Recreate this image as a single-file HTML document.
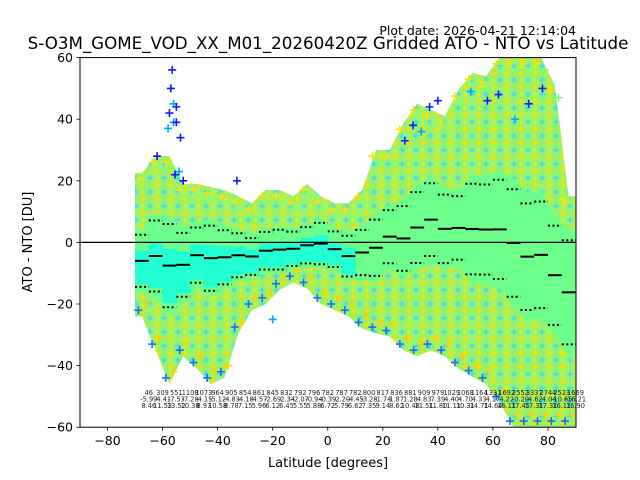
<!DOCTYPE html>
<html><head><meta charset="utf-8"><style>
body{margin:0;background:#fff;}
svg{display:block;font-family:"DejaVu Sans","Liberation Sans",sans-serif;}
</style></head><body>
<svg id="chart" width="640" height="480" viewBox="0 0 640 480" xmlns="http://www.w3.org/2000/svg">
<defs>
<clipPath id="plotclip"><rect x="80" y="57.6" width="496" height="369.6"/></clipPath>
<pattern id="pluspat" width="14" height="14" patternUnits="userSpaceOnUse">
<rect width="14" height="14" fill="#98f26a"/>
<path d="M3 0v6M0 3h6" stroke="#ffdf00" stroke-width="1.5"/>
<path d="M10 7v6M7 10h6" stroke="#3adcff" stroke-width="1.5"/>
<path d="M3 8v5M0.5 10.5h5" stroke="#c8f22a" stroke-width="1.5"/>
</pattern>
</defs>
<text x="576" y="35" font-size="12.5" text-anchor="end">Plot date: 2026-04-21 12:14:04</text>
<text x="328" y="49" font-size="16.7" text-anchor="middle">S-O3M_GOME_VOD_XX_M01_20260420Z Gridded ATO - NTO vs Latitude</text>
<g id="cloud" clip-path="url(#plotclip)"></g>
<g id="stats" clip-path="url(#plotclip)"></g>
<g id="labels"></g>
<rect x="80" y="57.6" width="496" height="369.6" fill="none" stroke="#000" stroke-width="1"/>
<g id="axes"></g>
<text x="328" y="467" font-size="13" text-anchor="middle">Latitude [degrees]</text>
<text transform="translate(32,242) rotate(-90)" font-size="13" text-anchor="middle">ATO - NTO [DU]</text>
</svg>
<script>
const binStart=[-70,-65,-60,-55,-50,-45,-40,-35,-30,-25,-20,-15,-10,-5,0,5,10,15,20,25,30,35,40,45,50,55,60,65,70,75,80,85];
const counts=[46,309,551,1108,1073,964,905,854,861,845,832,792,796,782,787,782,800,817,836,881,909,979,1029,1068,1164,1331,1692,2552,3337,2744,2523,1669];
const means=[-5.99,-4.41,-7.53,-7.28,-4.15,-5.12,-4.83,-4.18,-4.57,-2.69,-2.34,-2.07,-0.94,-0.39,-2.20,-4.45,-3.28,-1.74,1.87,1.28,4.83,7.39,4.40,4.70,4.33,4.17,4.22,-0.20,-4.62,-4.04,-10.65,-16.21];
const stds=[8.46,11.53,13.52,10.38,8.97,10.58,8.78,7.15,5.96,6.12,6.45,5.55,5.88,6.72,5.79,6.62,7.35,9.14,8.62,10.48,11.51,11.80,11.11,10.31,14.71,14.64,16.11,17.45,17.31,17.31,16.11,16.90];
const cloudMax=[22.5,28,28,19,19,18,17,15,12.7,17,17,15,19,15,12.7,12.7,17,30,30,38.7,45,43,41,49.5,55,54,60,60,60,60,51,15];
const cloudMin=[-24,-35,-46,-37,-41,-46,-44,-29.5,-22,-20,-15.4,-13,-15,-20,-22,-24,-28,-29.5,-30.6,-35,-37,-35,-37,-41,-43.6,-46,-52,-60,-60,-60,-60,-60];
const outlierLat=[-56.5,-57,-56,-55,-57.5,-56,-55,-53.5,-54,-55.5,-52.5,-58,-62,-33,-20,28,31,34,37,40,52,58,62,68,73,78];
const outlierVal=[56,50,45,44,42,39,39,34,23,22,20,37,28,20,-25,33,38,36,44,46,49,46,48,40,45,50];
const xTicks=[-80,-60,-40,-20,0,20,40,60,80];
const yTicks=[60,40,20,0,-20,-40,-60];

const NS="http://www.w3.org/2000/svg";
function xs(lat){return 80+(lat+90)*495.5/180;}
function ys(v){return 242.4-v*3.08;}
function mk(tag,attrs,parent){const e=document.createElementNS(NS,tag);for(const k in attrs)e.setAttribute(k,attrs[k]);parent.appendChild(e);return e;}
const W=5;
const cloud=document.getElementById('cloud');
function band(upper,lower){
  const n=binStart.length;let pts=[];
  pts.push(xs(binStart[0])+','+ys(upper[0]));
  for(let i=0;i<n;i++){pts.push(xs(binStart[i]+W/2)+','+ys(upper[i]));}
  pts.push(xs(binStart[n-1]+W)+','+ys(upper[n-1]));
  pts.push(xs(binStart[n-1]+W)+','+ys(lower[n-1]));
  for(let i=n-1;i>=0;i--){pts.push(xs(binStart[i]+W/2)+','+ys(lower[i]));}
  pts.push(xs(binStart[0])+','+ys(lower[0]));
  return pts.join(' ');
}
let outer=mk('polygon',{points:band(cloudMax,cloudMin),fill:'url(#pluspat)'},cloud);


const midU=means.map((m,i)=>m+stds[i]*1.2), midL=means.map((m,i)=>m-stds[i]*1.2);
let mid=mk('polygon',{points:band(midU,midL),fill:'#6cff8c'},cloud);


for(let i=0;i<binStart.length;i++){ if(binStart[i]<=5){ const y1=ys(means[i]+stds[i]*0.4), y2=ys(means[i]-stds[i]*0.9);
  const r=mk('rect',{x:xs(binStart[i]),y:y1,width:xs(binStart[i]+W)-xs(binStart[i])+0.5,height:y2-y1,fill:'#22ffd2'},cloud);
  
  
}}
function plus(lat,v,col){
  const g=mk('path',{d:`M${xs(lat)-4} ${ys(v)}h8M${xs(lat)} ${ys(v)-4}v8`,stroke:col,'stroke-width':1.6,fill:'none'},cloud);
  
  
}
for(let i=0;i<binStart.length;i++){
  plus(binStart[i]+1.2,cloudMax[i]-2,'#ffe000');plus(binStart[i]+3.8,cloudMax[i]-4,'#7aff7a');
  plus(binStart[i]+1.2,cloudMin[i]+2,'#1a6cff');plus(binStart[i]+3.8,cloudMin[i]+4,'#ffd000');
}
for(let i=0;i<outlierLat.length;i++){plus(outlierLat[i],outlierVal[i],i%3==2?'#00a8ff':'#0a1cff');}
const st=document.getElementById('stats');
let zl=mk('line',{x1:80,x2:576,y1:ys(0),y2:ys(0),stroke:'#000','stroke-width':1.2},st);


for(let i=0;i<binStart.length;i++){
  const x1=xs(binStart[i]),x2=xs(binStart[i]+W);
  const m=mk('line',{x1:x1,x2:x2,y1:ys(means[i]),y2:ys(means[i]),stroke:'#000','stroke-width':2},st);
  
  
  for(const s of [1,-1]){
    const d=mk('line',{x1:x1,x2:x2,y1:ys(means[i]+s*stds[i]),y2:ys(means[i]+s*stds[i]),stroke:'#000','stroke-width':2,'stroke-dasharray':'2,2.5'},st);
    
    
  }
}
const lb=document.getElementById('labels');
for(let i=0;i<binStart.length;i++){
  const x=xs(binStart[i]+W);
  const rows=[String(counts[i]),means[i].toFixed(2),stds[i].toFixed(2)];
  const yy=[395,401.5,408];
  rows.forEach((t,r)=>{const e=mk('text',{x:x,y:yy[r],'font-size':6.6,'text-anchor':'middle',fill:'#222'},lb);e.textContent=t;
    
    });
}
const ax=document.getElementById('axes');
xTicks.forEach(t=>{const x=xs(t);
  const l=mk('line',{x1:x,x2:x,y1:427.2,y2:430.7,stroke:'#000','stroke-width':0.8},ax);
  
  
  const e=mk('text',{x:x,y:445,'font-size':12.5,'text-anchor':'middle'},ax);e.textContent=t<0?'\u2212'+(-t):String(t);
  
  });
yTicks.forEach(t=>{const y=ys(t);
  const l=mk('line',{x1:76.5,x2:80,y1:y,y2:y,stroke:'#000','stroke-width':0.8},ax);
  
  
  const e=mk('text',{x:73,y:y+4.5,'font-size':12.5,'text-anchor':'end'},ax);e.textContent=t<0?'\u2212'+(-t):String(t);
  
  });
</script>
</body></html>
